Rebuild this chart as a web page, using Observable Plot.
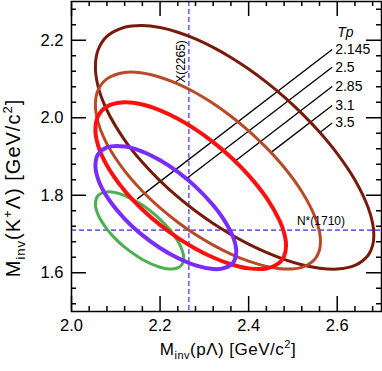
<!DOCTYPE html>
<html><head><meta charset="utf-8">
<script src="https://cdn.jsdelivr.net/npm/d3@7"></script>
<script src="https://cdn.jsdelivr.net/npm/@observablehq/plot@0.6"></script>
<style>
body{margin:0;background:#fff;}
#chart svg{display:block;}
</style></head><body><div id="chart"></div>
<script>
// Beam kinetic energies Tp (GeV)
const tpLabels = ["2.145", "2.5", "2.85", "3.1", "3.5"];

// Kinematic boundaries, [M_inv(pΛ), M_inv(K+Λ)] in GeV/c^2
const boundary2145 = [[2.054,1.7787],[2.06,1.7991],[2.08,1.8087],[2.10,1.8066],[2.12,1.7993],[2.16,1.7746],[2.20,1.7378],[2.22,1.7135],[2.24,1.6818],[2.25,1.6578],[2.2534,1.6373],[2.25,1.6218],[2.24,1.6124],[2.22,1.6096],[2.20,1.6141],[2.16,1.6343],[2.12,1.6660],[2.10,1.6867],[2.08,1.7125],[2.06,1.7499]];
const boundary25 = [[2.054,1.8777],[2.06,1.9053],[2.08,1.9235],[2.12,1.9258],[2.16,1.9127],[2.20,1.8902],[2.24,1.8601],[2.28,1.8222],[2.32,1.7742],[2.34,1.7442],[2.36,1.7051],[2.368,1.6818],[2.3721,1.6539],[2.368,1.6320],[2.36,1.6205],[2.34,1.6106],[2.32,1.6096],[2.28,1.6191],[2.24,1.6379],[2.20,1.6639],[2.16,1.6971],[2.12,1.7391],[2.08,1.7963],[2.06,1.8418]];
const boundary285 = [[2.054,1.9704],[2.06,2.0040],[2.08,2.0288],[2.12,2.0399],[2.16,2.0342],[2.20,2.0193],[2.24,1.9976],[2.28,1.9702],[2.32,1.9371],[2.36,1.8979],[2.40,1.8514],[2.44,1.7938],[2.47,1.7342],[2.48,1.7032],[2.4845,1.6696],[2.48,1.6426],[2.47,1.6264],[2.44,1.6109],[2.40,1.6113],[2.36,1.6220],[2.32,1.6394],[2.28,1.6622],[2.24,1.6902],[2.20,1.7234],[2.16,1.7631],[2.12,1.8117],[2.08,1.8768],[2.06,1.9286]];
const boundary31 = [[2.054,2.0340],[2.06,2.0713],[2.08,2.1004],[2.12,2.1168],[2.16,2.1154],[2.20,2.1046],[2.24,2.0872],[2.28,2.0644],[2.32,2.0366],[2.36,2.0040],[2.40,1.9664],[2.44,1.9230],[2.48,1.8722],[2.52,1.8095],[2.55,1.7436],[2.56,1.7054],[2.5622,1.6804],[2.56,1.6587],[2.55,1.6355],[2.52,1.6139],[2.48,1.6096],[2.44,1.6164],[2.40,1.6298],[2.36,1.6483],[2.32,1.6713],[2.28,1.6985],[2.24,1.7303],[2.20,1.7672],[2.16,1.8104],[2.12,1.8627],[2.08,1.9327],[2.06,1.9886]];
const boundary35 = [[2.054,2.1319],[2.06,2.1747],[2.08,2.2098],[2.12,2.2335],[2.16,2.2380],[2.20,2.2327],[2.24,2.2207],[2.28,2.2033],[2.32,2.1815],[2.36,2.1556],[2.40,2.1258],[2.44,2.0920],[2.48,2.0540],[2.52,2.0114],[2.56,1.9631],[2.60,1.9074],[2.64,1.8392],[2.67,1.7679],[2.68,1.7274],[2.6827,1.6970],[2.68,1.6707],[2.67,1.6453],[2.64,1.6189],[2.60,1.6096],[2.56,1.6119],[2.52,1.6208],[2.48,1.6346],[2.44,1.6525],[2.40,1.6739],[2.36,1.6988],[2.32,1.7272],[2.28,1.7593],[2.24,1.7956],[2.20,1.8370],[2.16,1.8849],[2.12,1.9425],[2.08,2.0194],[2.06,2.0811]];

// Leader lines from the Tp labels to the curves
const leaderStart = [[2.5886,2.1761],[2.5886,2.1305],[2.5886,2.0806],[2.5886,2.0316],[2.5886,1.9865]];
const leaderEnd = [[2.148,1.790],[2.26,1.843],[2.369,1.888],[2.450,1.910],[2.561,1.962]];

// Resonances
const resonanceXName = ["X(2265)"];
const resonanceXMass = [2.265];
const resonanceXLabelY = [2.1452];
const resonanceYName = ["N*(1710)"];
const resonanceYMass = [1.71];
const resonanceYLabelX = [2.5633];

// Ticks
const xMajor = [2.0, 2.2, 2.4, 2.6];
const xMinor = [2.04,2.08,2.12,2.16,2.24,2.28,2.32,2.36,2.44,2.48,2.52,2.56,2.64,2.68];
const yMajor = [1.6, 1.8, 2.0, 2.2];
const yMinor = [1.52,1.56,1.64,1.68,1.72,1.76,1.84,1.88,1.92,1.96,2.04,2.08,2.12,2.16,2.24,2.28];

const curves = [boundary2145, boundary25, boundary285, boundary31, boundary35];
const curveStyle = [
  {stroke: "#4caf50", strokeWidth: 3},
  {stroke: "#7a2dfa", strokeWidth: 4},
  {stroke: "#ff1010", strokeWidth: 4},
  {stroke: "#b84a26", strokeWidth: 3},
  {stroke: "#781a0a", strokeWidth: 3}
];
const drawOrder = [4, 3, 0, 2, 1];

const rows = curves.map((pts, i) => pts.map(([x, y]) => ({tp: tpLabels[i], x, y})));
const leaders = tpLabels.map((t, i) => ({tp: t, x1: leaderStart[i][0], y1: leaderStart[i][1], x2: leaderEnd[i][0], y2: leaderEnd[i][1]}));

const W = 382, H = 371, mL = 71, mR = 1, mT = 1, mB = 60;
const innerW = W - mL - mR, innerH = H - mT - mB;
const majorLen = 15, minorLen = 5;
const dashColor = "#6f63f3";

const marks = [
  Plot.ruleX(resonanceXMass, {stroke: dashColor, strokeWidth: 1.6, strokeDasharray: "5,3"}),
  Plot.ruleY(resonanceYMass, {stroke: dashColor, strokeWidth: 1.6, strokeDasharray: "5,3"}),
  Plot.link(leaders, {x1: "x1", y1: "y1", x2: "x2", y2: "y2", stroke: "black", strokeWidth: 1.3}),
  ...drawOrder.map(i => Plot.line(rows[i], {x: "x", y: "y", curve: "catmull-rom-closed", ...curveStyle[i]})),
  Plot.text(leaders, {x: "x1", y: "y1", text: "tp", textAnchor: "start", lineAnchor: "middle", dx: 3, fontSize: 14, fill: "black"}),
  Plot.text([leaders[0]], {x: "x1", y: "y1", text: () => "Tp", textAnchor: "start", lineAnchor: "middle", dx: 5, dy: -17, fontSize: 14, fontStyle: "italic", fill: "black"}),
  Plot.text(resonanceXMass, {x: d => d, y: () => resonanceXLabelY[0], text: () => resonanceXName[0], rotate: -90, textAnchor: "middle", lineAnchor: "middle", dx: -8, fontSize: 12, fill: "black"}),
  Plot.text(resonanceYMass, {x: () => resonanceYLabelX[0], y: d => d, text: () => resonanceYName[0], textAnchor: "middle", lineAnchor: "middle", dy: -9, fontSize: 12, fill: "black"}),
  // inward ticks on all four sides
  Plot.tickX(xMajor, {x: d => d, insetTop: innerH - majorLen, stroke: "black", strokeWidth: 1.5}),
  Plot.tickX(xMajor, {x: d => d, insetBottom: innerH - majorLen, stroke: "black", strokeWidth: 1.5}),
  Plot.tickX(xMinor, {x: d => d, insetTop: innerH - minorLen, stroke: "black", strokeWidth: 1.5}),
  Plot.tickX(xMinor, {x: d => d, insetBottom: innerH - minorLen, stroke: "black", strokeWidth: 1.5}),
  Plot.tickY(yMajor, {y: d => d, insetRight: innerW - majorLen, stroke: "black", strokeWidth: 1.5}),
  Plot.tickY(yMajor, {y: d => d, insetLeft: innerW - majorLen, stroke: "black", strokeWidth: 1.5}),
  Plot.tickY(yMinor, {y: d => d, insetRight: innerW - minorLen, stroke: "black", strokeWidth: 1.5}),
  Plot.tickY(yMinor, {y: d => d, insetLeft: innerW - minorLen, stroke: "black", strokeWidth: 1.5}),
  Plot.frame({stroke: "black", strokeWidth: 1.5}),
  Plot.axisX(xMajor, {tickSize: 0, tickPadding: 8, tickFormat: d => d.toFixed(1), label: null, fontSize: 16.5}),
  Plot.axisY(yMajor, {tickSize: 0, tickPadding: 8, tickFormat: d => d.toFixed(1), label: null, fontSize: 16.5})
];

const plot = Plot.plot({
  width: W, height: H,
  marginLeft: mL, marginRight: mR, marginTop: mT, marginBottom: mB,
  x: {domain: [2.0, 2.7]},
  y: {domain: [1.5, 2.3]},
  style: {fontFamily: "'Liberation Sans', Arial, Helvetica, sans-serif", background: "white", color: "black"},
  marks
});

const svg = d3.select(plot);
const font = "'Liberation Sans', Arial, Helvetica, sans-serif";

// x-axis title: M_inv(pΛ) [GeV/c²]
const xt = svg.append("text").attr("x", 228).attr("y", 355).attr("text-anchor", "middle")
  .attr("font-family", font).attr("font-size", 17).attr("letter-spacing", 0.5).attr("fill", "black");
xt.append("tspan").text("M");
xt.append("tspan").attr("dy", 4).attr("font-size", 11).text("inv");
xt.append("tspan").attr("dy", -4).text("(pΛ) [GeV/c");
xt.append("tspan").attr("dy", -7).attr("font-size", 11).text("2");
xt.append("tspan").attr("dy", 7).text("]");

// y-axis title: M_inv(K⁺Λ) [GeV/c²]
const yt = svg.append("text").attr("transform", "translate(20,188) rotate(-90)").attr("text-anchor", "middle")
  .attr("font-family", font).attr("font-size", 20).attr("letter-spacing", 1).attr("fill", "black");
yt.append("tspan").text("M");
yt.append("tspan").attr("dy", 5).attr("font-size", 13).text("inv");
yt.append("tspan").attr("dy", -5).text("(K");
yt.append("tspan").attr("dy", -8).attr("font-size", 13).text("+");
yt.append("tspan").attr("dy", 8).text("Λ) [GeV/c");
yt.append("tspan").attr("dy", -8).attr("font-size", 13).text("2");
yt.append("tspan").attr("dy", 8).text("]");

document.getElementById("chart").appendChild(plot);
</script></body></html>
